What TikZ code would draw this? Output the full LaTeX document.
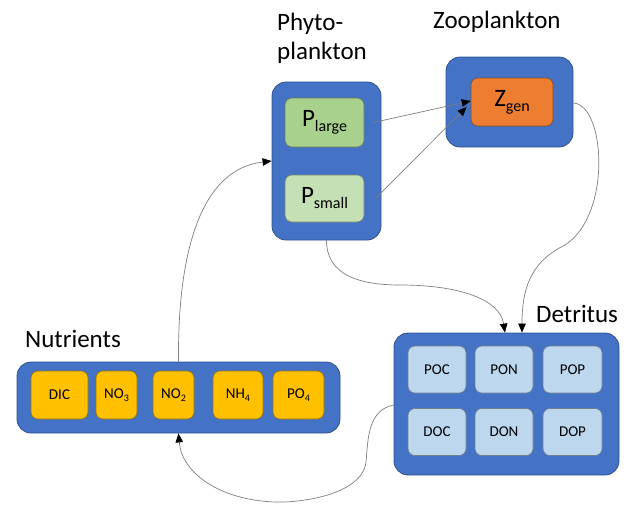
\documentclass[tikz,border=0pt]{standalone}
\usepackage{fontspec}
\setmainfont{Carlito}
\usetikzlibrary{arrows.meta}

\definecolor{boxblue}{HTML}{4472C4}
\definecolor{boxedge}{HTML}{2F528F}
\definecolor{largegreen}{HTML}{A9D18E}
\definecolor{smallgreen}{HTML}{C5E0B4}
\definecolor{zooorange}{HTML}{ED7D31}
\definecolor{nutryellow}{HTML}{FFC000}
\definecolor{detblue}{HTML}{BDD7EE}
\definecolor{linegray}{HTML}{7F7F7F}

\newcommand{\bigsub}[2]{{\fontsize{25}{30}\selectfont #1}{\fontsize{16}{19}\selectfont\raisebox{-5pt}{#2}}}
\newcommand{\chem}[2]{#1{\fontsize{10}{12}\selectfont\raisebox{-3pt}{#2}}}

\begin{document}
\begin{tikzpicture}[x=1pt,y=-1pt,
  group/.style={draw=boxedge, fill=boxblue, line width=0.8pt, rounded corners=14pt, inner sep=0pt},
  pool/.style={draw=#1!60!black, fill=#1, line width=0.6pt, rounded corners=7pt, inner sep=0pt,
    font=\fontsize{15}{18}\selectfont},
  title/.style={inner sep=0pt, font=\fontsize{25}{29}\selectfont},
  flow/.style={draw=linegray, line width=0.7pt, -{Triangle[length=9pt,width=7.5pt,color=black]}}]
\useasboundingbox (0,0) rectangle (632,504);

% phytoplankton
\node[group, minimum width=109pt, minimum height=158pt] (phyto) at (326.5,161) {};
\node[pool=largegreen, minimum width=79pt, minimum height=49pt] (plarge) at (324.5,122.5) {\bigsub{P}{large}};
\node[pool=smallgreen, minimum width=79pt, minimum height=47pt] (psmall) at (324.5,198.5) {\bigsub{P}{small}};
\node[title, anchor=north west, align=left] (phytolabel) at (277,13) {Phyto-\\plankton};

% zooplankton
\node[group, minimum width=127pt, minimum height=90pt] (zoo) at (509.5,102) {};
\node[pool=zooorange, minimum width=82pt, minimum height=48pt] (zgen) at (512,102) {\bigsub{Z}{gen}};
\node[title, anchor=base west] (zoolabel) at (433,28) {Zooplankton};

% nutrients
\node[group, minimum width=323pt, minimum height=71pt] (nutr) at (178.5,397.5) {};
\node[pool=nutryellow, minimum width=57pt, minimum height=48pt] (dic) at (59.5,395) {DIC};
\node[pool=nutryellow, minimum width=41pt, minimum height=48pt] (no3) at (116.5,395) {\chem{NO}{3}};
\node[pool=nutryellow, minimum width=41pt, minimum height=48pt] (no2) at (173.5,395) {\chem{NO}{2}};
\node[pool=nutryellow, minimum width=50pt, minimum height=48pt] (nh4) at (238,395) {\chem{NH}{4}};
\node[pool=nutryellow, minimum width=51pt, minimum height=48pt] (po4) at (298.5,395) {\chem{PO}{4}};
\node[title, anchor=base west] (nutrlabel) at (25,347) {Nutrients};

% detritus
\node[group, minimum width=225pt, minimum height=142pt] (det) at (506.5,404) {};
\node[pool=detblue, minimum width=58pt, minimum height=47pt] (poc) at (437,369.5) {POC};
\node[pool=detblue, minimum width=58pt, minimum height=47pt] (pon) at (504,369.5) {PON};
\node[pool=detblue, minimum width=59pt, minimum height=47pt] (pop) at (572.5,369.5) {POP};
\node[pool=detblue, minimum width=58pt, minimum height=47pt] (doc) at (437,432) {DOC};
\node[pool=detblue, minimum width=58pt, minimum height=47pt] (don) at (504,432) {DON};
\node[pool=detblue, minimum width=59pt, minimum height=47pt] (dop) at (572.5,432) {DOP};
\node[title, anchor=base west] (detlabel) at (536,322) {Detritus};

% fluxes
\draw[flow] ([xshift=9pt]plarge.east) -- ([yshift=1pt]zgen.west);
\draw[flow] ([xshift=11pt]psmall.east) -- ([xshift=-4pt,yshift=-5pt]zgen.west);
\draw[flow] ([yshift=-1pt]zoo.east) .. controls +(32,2) and +(47,-30) .. (565,245)
  .. controls +(-35,17) and +(0,-43) .. ([xshift=15.5pt]det.north);
\draw[flow] (phyto.south) .. controls +(0,35) and +(-40,0) .. (400,285)
  .. controls +(60,0) and +(-5,-33) .. ([xshift=-1.5pt]det.north);
\draw[flow] (nutr.north) .. controls +(-1,-112) and +(-70,8) .. (phyto.west);
\draw[flow] ([yshift=-1pt]det.west) .. controls +(-26,5) and +(2,-22) .. (366,462)
  .. controls +(-4,33) and +(25,1) .. (275,502)
  .. controls +(-55,-2) and +(3.5,40) .. (nutr.south);

\end{tikzpicture}
\end{document}
